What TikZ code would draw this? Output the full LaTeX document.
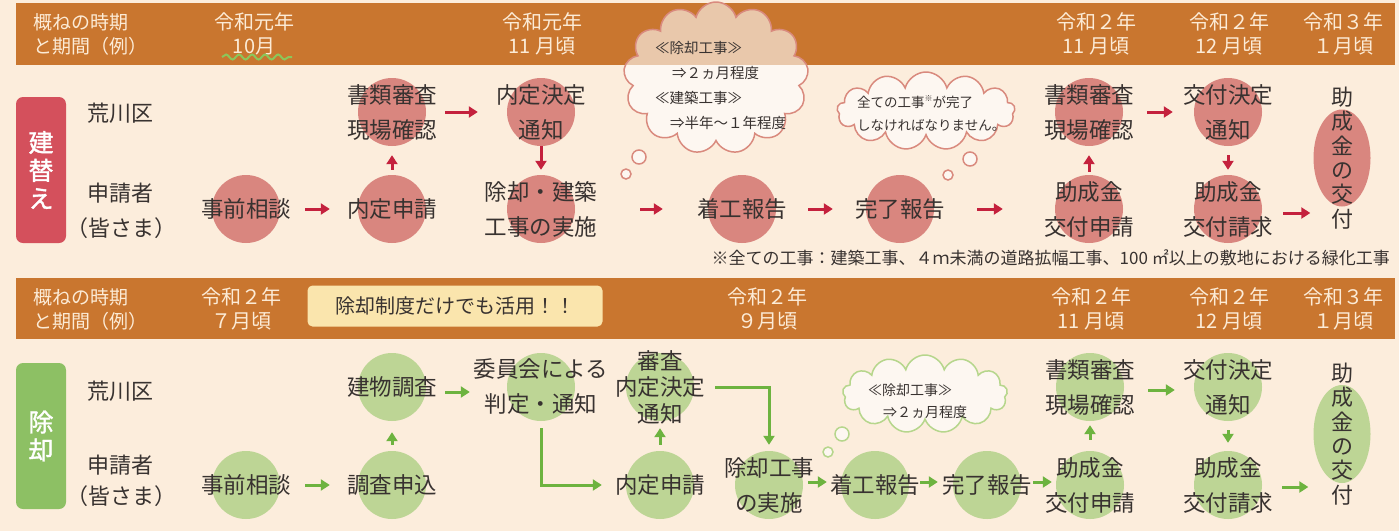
\documentclass[tikz,border=0pt]{standalone}
\usepackage{fontspec}
\setmainfont{Noto Sans CJK JP}
\newfontfamily\tagfont[FakeBold=1.5]{Noto Sans CJK JP}
\usetikzlibrary{arrows.meta, shapes.geometric, shapes.symbols, decorations.pathmorphing}

\definecolor{bgcream}{HTML}{FCEDDC}
\definecolor{bandbrown}{HTML}{C9762F}
\definecolor{bandtext}{HTML}{FCEBD6}
\definecolor{inktext}{HTML}{383230}
\definecolor{pinkdot}{HTML}{D9867F}
\definecolor{redarrow}{HTML}{C4213D}
\definecolor{redtag}{HTML}{D4505C}
\definecolor{pinkline}{HTML}{D98A7E}
\definecolor{greendot}{HTML}{BDD595}
\definecolor{greenarrow}{HTML}{6DB33F}
\definecolor{greentag}{HTML}{8DC064}
\definecolor{greenline}{HTML}{B6D68C}
\definecolor{wavygreen}{HTML}{8CC65A}
\definecolor{notebox}{HTML}{FAE5AD}

\tikzset{
  bandlabel/.style={text=bandtext, font=\fontsize{20}{24}\selectfont, align=center, inner sep=0},
  rowlabel/.style={text=inktext, font=\fontsize{22}{26}\selectfont, inner sep=0},
  tagbox/.style={rounded corners=7pt, minimum width=50pt, minimum height=146pt, inner sep=0,
    text=white, font=\tagfont\fontsize{25}{28}\selectfont, align=center},
  steptext/.style={text=inktext, font=\fontsize{22.5}{35}\selectfont, align=center, inner sep=0},
  vtext/.style={text=inktext, font=\fontsize{22}{24.4}\selectfont, align=center, inner sep=0},
  reddot/.style={circle, fill=pinkdot, minimum size=68pt, inner sep=0},
  greendotc/.style={circle, fill=greendot, minimum size=68pt, inner sep=0},
  redoval/.style={ellipse, fill=pinkdot, minimum width=57pt, minimum height=97pt, inner sep=0},
  greenoval/.style={ellipse, fill=greendot, minimum width=57pt, minimum height=98pt, inner sep=0},
  redgo/.style={draw=redarrow, line width=3pt, -{Triangle[length=9pt,width=11pt]}},
  greengo/.style={draw=greenarrow, line width=3pt, -{Triangle[length=9pt,width=11pt]}},
  think/.style={cloud, cloud puffs=13, line width=1.5pt, fill=white, fill opacity=0.6, inner sep=0},
  thinktext/.style={text=inktext, align=left, inner sep=0},
}

\begin{document}
\begin{tikzpicture}[x=1pt, y=-1pt]

% ── Canvas ──
\fill[bgcream] (0,0) rectangle (1399,531);
\useasboundingbox (0,0) rectangle (1399,531);

% ── Time bands ──
\fill[bandbrown] (16,3) rectangle (1395,65);
\fill[bandbrown] (16,278) rectangle (1395,339);

% band A labels
\node[bandlabel, anchor=west, align=left, font=\fontsize{19}{24}\selectfont] (periodA) at (33,34) {概ねの時期\\と期間（例）};
\node[bandlabel] (timeA1) at (254,34) {令和元年\\10月};
\node[bandlabel] (timeA2) at (542,34) {令和元年\\11 月頃};
\node[bandlabel] (timeA3) at (1096,34) {令和２年\\11 月頃};
\node[bandlabel] (timeA4) at (1229,34) {令和２年\\12 月頃};
\node[bandlabel] (timeA5) at (1343,34) {令和３年\\１月頃};
\draw[wavygreen, line width=2pt, decorate, decoration={snake, amplitude=2.5pt, segment length=13pt}] (222,57) -- (292,57);

% band B labels
\node[bandlabel, anchor=west, align=left, font=\fontsize{19}{24}\selectfont] (periodB) at (33,309) {概ねの時期\\と期間（例）};
\node[fill=notebox, rounded corners=5pt, minimum width=295pt, minimum height=41pt, inner sep=0,
  text=inktext, font=\fontsize{20}{24}\selectfont] (hint) at (455,306) {除却制度だけでも活用！！};
\node[bandlabel] (timeB1) at (241,309) {令和２年\\７月頃};
\node[bandlabel] (timeB2) at (767,309) {令和２年\\９月頃};
\node[bandlabel] (timeB3) at (1091,309) {令和２年\\11 月頃};
\node[bandlabel] (timeB4) at (1229,309) {令和２年\\12 月頃};
\node[bandlabel] (timeB5) at (1343,309) {令和３年\\１月頃};

% ── Thought clouds (A) ──
\node[think, draw=pinkline, minimum width=185pt, minimum height=152pt] (cloudA1) at (716,78) {};
\node[thinktext, anchor=west, font=\fontsize{14.5}{25}\selectfont] (noteA1) at (655,85)
  {≪除却工事≫\\\hspace*{17pt}⇒２ヵ月程度\\≪建築工事≫\\\hspace*{15pt}⇒半年～１年程度};
\filldraw[draw=pinkline, line width=1.5pt, fill=white, fill opacity=0.6] (639,157) circle (7pt) (626,174) circle (5pt);

\node[think, draw=pinkline, minimum width=178pt, minimum height=78pt] (cloudA2) at (926,111) {};
\node[thinktext, anchor=west, font=\fontsize{13.5}{23}\selectfont] (noteA2) at (857,113)
  {全ての工事\raisebox{6pt}{\fontsize{8}{8}\selectfont ※}が完了\\しなければなりません。};
\filldraw[draw=pinkline, line width=1.5pt, fill=white, fill opacity=0.6] (970,159) circle (7pt) (948,175) circle (5pt);

% ── Section A: 建替え ──
\node[tagbox, fill=redtag] (tagA) at (41,170) {建\\替\\え};
\node[rowlabel] (wardA) at (120,113) {荒川区};
\node[rowlabel] (applA) at (120,193) {申請者};
\node[rowlabel] (applA2) at (121,228) {（皆さま）};

\node[reddot, label={[steptext]center:事前相談}] (aJizen) at (246,209) {};
\node[reddot, label={[steptext]center:内定申請}] (aNaitei) at (392,209) {};
\node[reddot, label={[steptext]center:{書類審査\\現場確認}}] (aShorui) at (392,112) {};
\node[reddot, label={[steptext]center:{内定決定\\通知}}] (aKettei) at (541,112) {};
\node[reddot, label={[steptext]center:{除却・建築\\工事の実施}}] (aKouji) at (541,209) {};
\node[reddot, label={[steptext]center:着工報告}] (aChakko) at (742,209) {};
\node[reddot, label={[steptext]center:完了報告}] (aKanryo) at (900,209) {};
\node[reddot, label={[steptext]center:{助成金\\交付申請}}] (aShinsei) at (1089,209) {};
\node[reddot, label={[steptext]center:{書類審査\\現場確認}}] (aShorui2) at (1089,112) {};
\node[reddot, label={[steptext]center:{交付決定\\通知}}] (aKoufu) at (1228,112) {};
\node[reddot, label={[steptext]center:{助成金\\交付請求}}] (aSeikyu) at (1228,209) {};
\node[redoval, label={[vtext]center:{助\\成\\金\\の\\交\\付}}] (aJosei) at (1342,158) {};

\draw[redgo, shorten <=25pt, shorten >=28pt] (aJizen) -- (aNaitei);
\draw[redgo, shorten <=5pt, shorten >=9pt] (aNaitei) -- (aShorui);
\draw[redgo, shorten <=19pt, shorten >=29pt] (aShorui) -- (aKettei);
\draw[redgo, shorten >=5pt] (aKettei) -- (aKouji);
\draw[redgo, shorten <=65pt, shorten >=45pt] (aKouji) -- (aChakko);
\draw[redgo, shorten <=32pt, shorten >=33pt] (aChakko) -- (aKanryo);
\draw[redgo, shorten <=43pt, shorten >=52pt] (aKanryo) -- (aShinsei);
\draw[redgo, shorten <=3pt, shorten >=9pt] (aShinsei) -- (aShorui2);
\draw[redgo, shorten <=24pt, shorten >=21pt] (aShorui2) -- (aKoufu);
\draw[redgo, shorten <=9pt, shorten >=5pt] (aKoufu) -- (aSeikyu);
\draw[redgo, shorten <=21pt, shorten >=3pt] ([yshift=-4pt]aSeikyu.east) -- ([yshift=-4pt]aSeikyu.east -| aJosei.west);

\node[anchor=east, text=inktext, font=\fontsize{17}{20}\selectfont, inner sep=0] (footA) at (1390,258)
  {※全ての工事：建築工事、４ｍ未満の道路拡幅工事、100 ㎡以上の敷地における緑化工事};

% ── Thought cloud (B) ──
\node[think, draw=greenline, minimum width=165pt, minimum height=78pt] (cloudB) at (925,394) {};
\node[thinktext, anchor=west, font=\fontsize{14}{22}\selectfont] (noteB) at (868,401)
  {≪除却工事≫\\\hspace*{15pt}⇒２ヵ月程度};
\filldraw[draw=greenline, line width=1.5pt, fill=white, fill opacity=0.6] (842,434) circle (7pt) (828,452) circle (5pt);

% ── Section B: 除却 ──
\node[tagbox, fill=greentag] (tagB) at (41,436) {除\\却};
\node[rowlabel] (wardB) at (120,391) {荒川区};
\node[rowlabel] (applB) at (120,465) {申請者};
\node[rowlabel] (applB2) at (121,496) {（皆さま）};

\node[greendotc, label={[steptext]center:事前相談}] (bJizen) at (246,485) {};
\node[greendotc, label={[steptext]center:調査申込}] (bChousa) at (392,485) {};
\node[greendotc, label={[steptext]center:建物調査}] (bTatemono) at (392,387) {};
\node[greendotc, label={[steptext]center:{委員会による\\判定・通知}}] (bIinkai) at (541,387) {};
\node[greendotc, label={[steptext, font=\fontsize{22.5}{26.5}\selectfont]center:{審査\\内定決定\\通知}}] (bShinsa) at (660,387) {};
\node[greendotc, label={[steptext]center:内定申請}] (bNaitei) at (660,485) {};
\node[greendotc, label={[steptext]center:{除却工事\\の実施}}] (bKouji) at (769,485) {};
\node[greendotc, label={[steptext]center:着工報告}] (bChakko) at (875,485) {};
\node[greendotc, label={[steptext]center:完了報告}] (bKanryo) at (987,485) {};
\node[greendotc, label={[steptext]center:{助成金\\交付申請}}] (bShinsei) at (1090,485) {};
\node[greendotc, label={[steptext]center:{書類審査\\現場確認}}] (bShorui) at (1090,387) {};
\node[greendotc, label={[steptext]center:{交付決定\\通知}}] (bKoufu) at (1228,387) {};
\node[greendotc, label={[steptext]center:{助成金\\交付請求}}] (bSeikyu) at (1228,485) {};
\node[greenoval, label={[vtext]center:{助\\成\\金\\の\\交\\付}}] (bJosei) at (1342,434) {};

\draw[greengo, shorten <=25pt, shorten >=28pt] (bJizen) -- (bChousa);
\draw[greengo, shorten <=6pt, shorten >=11pt] (bChousa) -- (bTatemono);
\draw[greengo, shorten <=19pt, shorten >=37pt] ([yshift=-5pt]bTatemono.east) -- ([yshift=-5pt]bIinkai.west);
\draw[greengo, shorten <=7pt, shorten >=24pt] (bIinkai.south) |- (bNaitei.west);
\draw[greengo, shorten <=6pt, shorten >=7pt] (bNaitei) -- (bShinsa);
\draw[greengo, shorten <=21pt, shorten >=6pt] (bShinsa.east) -| (bKouji.north);
\draw[greengo, shorten <=5pt, shorten >=14pt] ([yshift=3pt]bKouji.east) -- ([yshift=3pt]bChakko.west);
\draw[greengo, shorten <=11pt, shorten >=15pt] ([yshift=3pt]bChakko.east) -- ([yshift=3pt]bKanryo.west);
\draw[greengo, shorten <=12pt, shorten >=4pt] ([yshift=3pt]bKanryo.east) -- ([yshift=3pt]bShinsei.west);
\draw[greengo, shorten <=11pt, shorten >=4pt] (bShinsei) -- (bShorui);
\draw[greengo, shorten <=24pt, shorten >=19pt] ([yshift=-3pt]bShorui.east) -- ([yshift=-3pt]bKoufu.west);
\draw[greengo, shorten <=9pt, shorten >=8pt] (bKoufu) -- (bSeikyu);
\draw[greengo, shorten <=20pt, shorten >=5pt] ([yshift=-2pt]bSeikyu.east) -- ([yshift=-2pt]bSeikyu.east -| bJosei.west);

\end{tikzpicture}
\end{document}
